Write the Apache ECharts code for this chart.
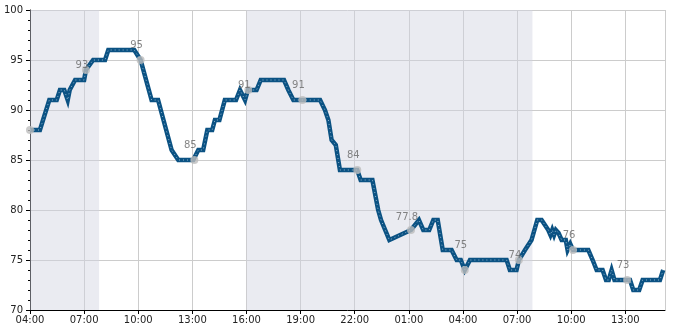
<!DOCTYPE html>
<html>
<head>
<meta charset="utf-8">
<script src="https://cdn.jsdelivr.net/npm/echarts@6/dist/echarts.min.js"></script>
<style>html,body{margin:0;padding:0;background:#fff}#c{width:685px;height:330px}</style>
</head>
<body>
<div id="c"></div>
<script>
// hours since 04:00 of day 1
var lineHours = [0,0.55,1.07,1.48,1.66,1.9,2.09,2.2,2.5,3.0,3.1,3.5,4.16,4.34,5.78,6.13,6.74,7.1,7.85,8.22,9.05,9.11,9.33,9.6,9.83,10.1,10.25,10.5,10.8,11.42,11.64,11.92,12.08,12.56,12.79,14.08,14.32,14.6,16.08,16.35,16.54,16.72,16.95,17.18,18.14,18.33,18.98,19.3,19.46,19.92,21.12,21.56,21.8,22.13,22.36,22.6,22.88,23.37,23.65,23.88,24.1,24.39,26.42,26.6,26.97,27.1,27.44,27.8,28.12,28.36,28.73,28.85,28.95,29.05,29.15,29.3,29.47,29.7,29.8,29.95,30.1,30.35,30.95,31.19,31.41,31.74,31.93,32.08,32.24,32.4,33.26,33.44,33.77,33.96,34.92,35.1];
var lineValues = [88,88,91,91,92,92,91,92,93,93,94,95,95,96,96,95,91,91,86,85,85,85,86,86,88,88,89,89,91,91,92,91,92,92,93,93,92,91,91,90,89,87,86.5,84,84,83,83,80,79,77,78,79,78,78,79,79,76,76,75,75,74,75,75,74,74,75,76,77,79,79,78,77.5,78,77.5,78,77.7,77,77,76,76.6,76,76,76,75,74,74,73,73,74,73,73,72,72,73,73,74];
var dotHours = [0,3.1,6.13,9.11,12.1,15.1,18.14,21.12,24.1,27.1,30.1,33.1];
var dotValues = [88,94,95,85,92,91,84,78,74,75,76,73];
var labelHours = [3.1,6.13,9.11,12.1,15.1,18.14,21.12,24.1,27.1,30.1,33.1];
var labelValues = [93,95,85,91,91,84,77.8,75,74,76,73];
var shadeRanges = [[0,3.83],[12,27.85]];

var lineData = lineHours.map(function(h,i){return [h,lineValues[i]];});
var dotData = dotHours.map(function(h,i){return [h,dotValues[i]];});
var labelData = labelHours.map(function(h,i){return [h,labelValues[i]];});
var ff = 'DejaVu Sans';
function fmt(v){var h=(4+Math.round(v))%24;return (h<10?'0':'')+h+':00';}

var chart = echarts.init(document.getElementById('c'));
chart.setOption({
  animation:false,
  grid:{left:30,right:20,top:10,bottom:20},
  xAxis:{type:'value',min:0,max:35.2,interval:3,
    axisLine:{lineStyle:{color:'#000',width:1}},
    axisTick:{show:true,length:4,lineStyle:{color:'#000'}},
    axisLabel:{fontFamily:ff,fontSize:10,color:'#222',margin:5,formatter:fmt,showMaxLabel:false},
    splitLine:{show:true,lineStyle:{color:'#cccccc',width:1}}},
  yAxis:{type:'value',min:70,max:100,interval:5,
    axisLine:{show:true,lineStyle:{color:'#000',width:1}},
    axisTick:{show:true,length:4,lineStyle:{color:'#000'}},
    minorTick:{show:true,splitNumber:5,length:2,lineStyle:{color:'#000'}},
    axisLabel:{fontFamily:ff,fontSize:10,color:'#222',margin:7},
    splitLine:{show:true,lineStyle:{color:'#cccccc',width:1}}},
  series:[
    {type:'line',data:[],z:1,silent:true,
     markArea:{silent:true,itemStyle:{color:'rgba(208,210,225,0.45)'},
       data:shadeRanges.map(function(r){return [{xAxis:r[0]},{xAxis:r[1]}];})}},
    {type:'line',data:lineData,showSymbol:false,z:5,
     lineStyle:{color:'#0b5283',width:4.5,join:'miter'}},
    {type:'line',data:lineData,showSymbol:false,z:6,
     lineStyle:{color:'#8fb4cf',width:1,type:[1,3]}},
    {type:'scatter',data:dotData,symbolSize:8,z:7,
     itemStyle:{color:'#bdbdbd'}},
    {type:'scatter',data:labelData,symbolSize:0,z:8,
     itemStyle:{color:'rgba(0,0,0,0)'},
     label:{show:true,position:'top',distance:10,offset:[-4,0],fontFamily:ff,fontSize:10,color:'#666',
       formatter:function(p){return String(p.data[1]);}}}
  ]
});
</script>
</body>
</html>
